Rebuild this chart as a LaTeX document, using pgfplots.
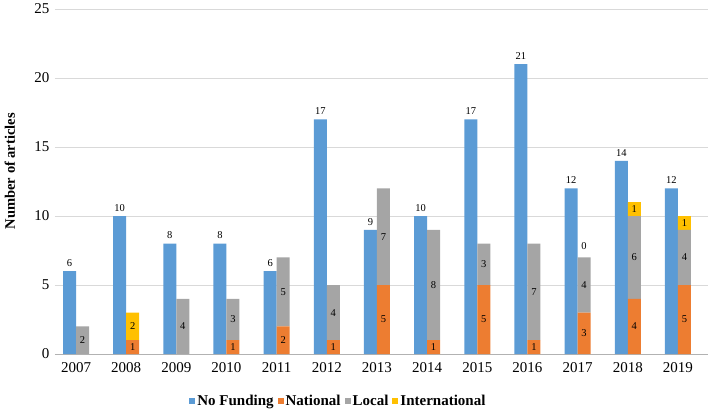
\documentclass[border=0pt]{standalone}
\usepackage{pgfplots}
\pgfplotsset{compat=1.18}
\usepackage{fontspec}
\setmainfont{Liberation Serif}
\definecolor{cblue}{HTML}{5B9BD5}
\definecolor{corange}{HTML}{ED7D31}
\definecolor{cgray}{HTML}{A5A5A5}
\definecolor{cyellow}{HTML}{FFC000}
\definecolor{cgrid}{HTML}{D9D9D9}
\pgfplotsset{
  base/.style={
    scale only axis, width=653pt, height=345pt,
    xmin=-0.419, xmax=12.6, ymin=0, ymax=25,
    axis line style={draw=none},
    tick style={draw=none},
    /pgf/number format/assume math mode=true,
  },
}
\begin{document}
\begin{tikzpicture}
\useasboundingbox (-55pt,-56pt) rectangle (654pt,354pt);
% Axis 1: grid, ticks, No Funding
\begin{axis}[base,
  ybar, bar width=13pt,
  ytick={0,5,...,25},
  ymajorgrids, grid style={cgrid, line width=0.75pt},
  xtick={0,...,12},
  xticklabels={2007,2008,2009,2010,2011,2012,2013,2014,2015,2016,2017,2018,2019},
  ticklabel style={font=\fontsize{15}{17}\selectfont},
  yticklabel style={xshift=-2pt},
  xticklabel style={yshift=-1pt},
  ylabel={\textbf{Number of articles}},
  ylabel style={font=\fontsize{14.5}{16}\selectfont, at={(axis description cs:-0.069,0.53)}, anchor=center},
  extra y ticks={0}, extra y tick labels={},
  extra y tick style={grid style={draw=gray!60, line width=0.75pt}},
  nodes near coords,
  every node near coord/.append style={font=\fontsize{10.5}{12}\selectfont, yshift=1pt},
]
\addplot[fill=cblue, draw=none, bar shift=-6.5pt] coordinates {
(0,6) (1,10) (2,8) (3,8) (4,6) (5,17) (6,9) (7,10) (8,17) (9,21) (10,12) (11,14) (12,12)};
\end{axis}
% Axis 2: stacked funded bars + legend
\begin{axis}[base,
  ybar stacked, bar width=13pt,
  xtick=\empty, ytick=\empty,
  legend image code/.code={\fill[#1] (0pt,-3pt) rectangle (6pt,3pt);},
  legend style={at={(axis description cs:0.434,-0.136)}, anchor=center,
    legend columns=4, draw=none, fill=none,
    font=\bfseries\fontsize{15}{17}\selectfont,
    inner sep=0pt,
    /tikz/every odd column/.append style={column sep=0pt},
    /tikz/every even column/.append style={column sep=2pt},
    nodes={inner sep=2pt}},
]
\addlegendimage{fill=cblue, draw=none}
\addlegendentry{No Funding}
\addplot[fill=corange, draw=none, bar shift=6.5pt] coordinates {
(0,0) (1,1) (2,0) (3,1) (4,2) (5,1) (6,5) (7,1) (8,5) (9,1) (10,3) (11,4) (12,5)};
\addlegendentry{National}
\addplot[fill=cgray, draw=none, bar shift=6.5pt] coordinates {
(0,2) (1,0) (2,4) (3,3) (4,5) (5,4) (6,7) (7,8) (8,3) (9,7) (10,4) (11,6) (12,4)};
\addlegendentry{Local}
\addplot[fill=cyellow, draw=none, bar shift=6.5pt] coordinates {
(0,0) (1,2) (2,0) (3,0) (4,0) (5,0) (6,0) (7,0) (8,0) (9,0) (10,0) (11,1) (12,1)};
\addlegendentry{International}
\end{axis}
% Axis 3: segment labels
\begin{axis}[base,
  xtick=\empty, ytick=\empty,
]
\addplot[draw=none, mark=none, only marks,
  nodes near coords, point meta=explicit symbolic,
  every node near coord/.style={anchor=center, xshift=6.5pt, inner sep=0pt,
    font=\fontsize{10.5}{12}\selectfont}]
coordinates {
(0,1)[2]
(1,0.5)[1] (1,2)[2]
(2,2)[4]
(3,0.5)[1] (3,2.5)[3]
(4,1)[2] (4,4.5)[5]
(5,0.5)[1] (5,3)[4]
(6,2.5)[5] (6,8.5)[7]
(7,0.5)[1] (7,5)[8]
(8,2.5)[5] (8,6.5)[3]
(9,0.5)[1] (9,4.5)[7]
(10,1.5)[3] (10,5)[4] (10,7.8)[0]
(11,2)[4] (11,7)[6] (11,10.5)[1]
(12,2.5)[5] (12,7)[4] (12,9.5)[1]
};
\end{axis}
\end{tikzpicture}
\end{document}
